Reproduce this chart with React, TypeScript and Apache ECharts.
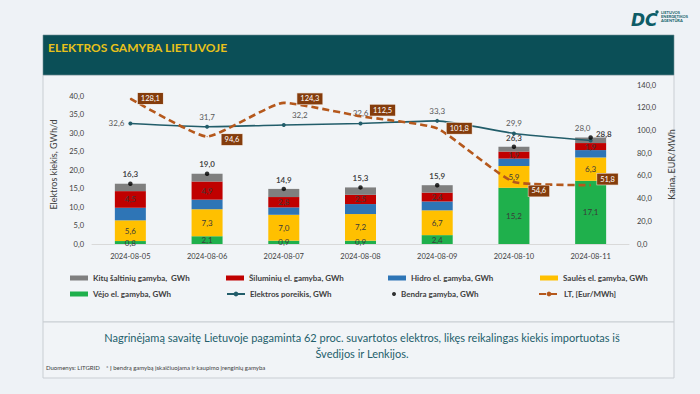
import React, { useEffect, useRef } from 'react';
import * as echarts from 'echarts';

const dates = ['2024-08-05', '2024-08-06', '2024-08-07', '2024-08-08', '2024-08-09', '2024-08-10', '2024-08-11'];
const wind = [0.8, 2.1, 0.9, 0.9, 2.4, 15.2, 17.1];
const solar = [5.6, 7.3, 7.0, 7.2, 6.7, 5.9, 6.3];
const hydro = [3.4, 2.6, 2.0, 2.7, 2.4, 2.0, 2.0];
const thermal = [4.5, 4.9, 2.8, 2.5, 2.4, 1.9, 1.9];
const other = [2.0, 2.1, 2.2, 2.0, 2.0, 1.3, 1.5];
const total = [16.3, 19.0, 14.9, 15.3, 15.9, 26.3, 28.8];
const demand = [32.6, 31.7, 32.2, 32.6, 33.3, 29.9, 28.0];
const price = [128.1, 94.6, 124.3, 112.5, 101.8, 54.6, 51.8];

const leftTicks = { min: 0, max: 43, interval: 5, labelMax: 40 };
const rightTicks = { min: 0, max: 140, interval: 20 };

const names = {
  other: 'Kitų šaltinių gamyba,  GWh',
  thermal: 'Šiluminių el. gamyba, GWh',
  hydro: 'Hidro el. gamyba, GWh',
  solar: 'Saulės el. gamyba, GWh',
  wind: 'Vėjo el. gamyba, GWh',
  demand: 'Elektros poreikis, GWh',
  total: 'Bendra gamyba, GWh',
  price: 'LT, [Eur/MWh]',
};

// label placement tweaks (style only)
const priceLabelOffsets = [[2, 0], [9, 3], [8, -4], [4, -6], [4, 0], [9, 9], [1, -6]];
const demandLabelCfg: any[] = [{ position: 'left' }, {}, { offset: [16, 0] }, {}, {}, {}, { offset: [-8, -2] }];
const totalLabelCfg: any[] = [{}, {}, {}, {}, {}, {}, { position: 'right', offset: [0, -4] }];

const FONT = 'Lato, "Open Sans", sans-serif';
const fmt = (v: number) => Number(v).toFixed(1).replace('.', ',');

const colors = {
  wind: '#1fb04c',
  solar: '#ffc000',
  hydro: '#2e75b6',
  thermal: '#c00000',
  other: '#7f7f7f',
  demand: '#225d6a',
  price: '#b5581c',
  teal: '#0b4f57',
};

function barSeries(name: string, data: number[], color: string, showLabel: boolean) {
  return {
    name,
    type: 'bar',
    stack: 'gen',
    barWidth: 31,
    data,
    itemStyle: { color },
    label: {
      show: showLabel,
      position: 'inside',
      formatter: (p: any) => fmt(p.value),
      fontSize: 8,
      fontFamily: FONT,
      color: '#3a3a3a',
    },
    emphasis: { disabled: true },
  };
}

const legendBase = {
  orient: 'horizontal',
  itemGap: 4,
  itemWidth: 18,
  itemHeight: 5,
  selectedMode: false,
  textStyle: { fontSize: 8, color: '#404040', fontFamily: FONT, fontWeight: 'bold' },
};

const option: any = {
  animation: false,
  backgroundColor: '#eef2f6',
  textStyle: { fontFamily: FONT },
  grid: { left: 92, right: 71, top: 85, bottom: 150, containLabel: false },
  legend: [
    { ...legendBase, data: [{ name: names.other, icon: 'rect' }], left: 65, top: 269 },
    { ...legendBase, data: [{ name: names.thermal, icon: 'rect' }], left: 221, top: 269 },
    { ...legendBase, data: [{ name: names.hydro, icon: 'rect' }], left: 383, top: 269 },
    { ...legendBase, data: [{ name: names.solar, icon: 'rect' }], left: 535, top: 269 },
    { ...legendBase, data: [{ name: names.wind, icon: 'rect' }], left: 65, top: 285 },
    { ...legendBase, data: [{ name: names.demand }], left: 221, top: 285, itemHeight: 6 },
    { ...legendBase, data: [{ name: names.total, icon: 'circle' }], left: 387, top: 285, itemWidth: 4, itemHeight: 4, itemGap: 8 },
    { ...legendBase, data: [{ name: names.price }], left: 533, top: 285, itemWidth: 20, itemHeight: 6 },
  ],
  xAxis: {
    type: 'category',
    data: dates,
    axisLine: { lineStyle: { color: '#d9d9d9' } },
    axisTick: { show: false },
    axisLabel: { fontSize: 7.5, color: '#404040', margin: 8, fontFamily: FONT },
  },
  yAxis: [
    {
      type: 'value',
      min: leftTicks.min,
      max: leftTicks.max,
      interval: leftTicks.interval,
      name: 'Elektros kiekis, GWh/d',
      nameLocation: 'middle',
      nameRotate: 90,
      nameGap: 22,
      nameTextStyle: { fontSize: 9, color: '#404040', fontFamily: FONT },
      axisLine: { show: false },
      axisTick: { show: false },
      splitLine: { show: false },
      axisLabel: {
        fontSize: 7.5,
        color: '#404040',
        margin: 8,
        fontFamily: FONT,
        formatter: (v: number) => (v > leftTicks.labelMax + 0.01 ? '' : fmt(v)),
      },
    },
    {
      type: 'value',
      min: rightTicks.min,
      max: rightTicks.max,
      interval: rightTicks.interval,
      name: 'Kaina, EUR/MWh',
      nameLocation: 'middle',
      nameRotate: 90,
      nameGap: 31,
      nameTextStyle: { fontSize: 9, color: '#404040', fontFamily: FONT },
      axisLine: { show: false },
      axisTick: { show: false },
      splitLine: { show: false },
      axisLabel: { fontSize: 7.5, color: '#404040', margin: 8, fontFamily: FONT, formatter: (v: number) => fmt(v) },
    },
  ],
  series: [
    barSeries(names.wind, wind, colors.wind, true),
    barSeries(names.solar, solar, colors.solar, true),
    barSeries(names.hydro, hydro, colors.hydro, false),
    barSeries(names.thermal, thermal, colors.thermal, true),
    barSeries(names.other, other, colors.other, false),
    {
      name: names.total,
      type: 'scatter',
      symbol: 'circle',
      symbolSize: 4.5,
      itemStyle: { color: '#000' },
      z: 5,
      data: total.map((v, i) => ({ value: v, label: totalLabelCfg[i] })),
      label: {
        show: true,
        position: 'top',
        distance: 3,
        formatter: (p: any) => fmt(p.value),
        fontSize: 8,
        fontWeight: 'bold',
        color: '#111',
        fontFamily: FONT,
      },
      emphasis: { disabled: true },
    },
    {
      name: names.demand,
      type: 'line',
      smooth: 0.15,
      symbol: 'circle',
      symbolSize: 4,
      z: 4,
      itemStyle: { color: colors.demand },
      lineStyle: { color: colors.demand, width: 1.6 },
      data: demand.map((v, i) => ({ value: v, label: demandLabelCfg[i] })),
      label: {
        show: true,
        position: 'top',
        distance: 4,
        formatter: (p: any) => fmt(p.value),
        fontSize: 8,
        color: '#595959',
        fontFamily: FONT,
      },
      emphasis: { disabled: true },
    },
    {
      name: names.price,
      type: 'line',
      yAxisIndex: 1,
      smooth: 0.15,
      symbol: 'circle',
      symbolSize: 1,
      z: 6,
      itemStyle: { color: colors.price },
      lineStyle: { color: colors.price, width: 2.6, type: [7, 4] },
      data: price.map((v, i) => ({ value: v, label: { offset: priceLabelOffsets[i] } })),
      label: {
        show: true,
        position: 'right',
        distance: 5,
        formatter: (p: any) => fmt(p.value),
        fontSize: 7.5,
        color: '#fff',
        backgroundColor: '#843c0c',
        borderColor: '#e9d8cc',
        borderWidth: 0.6,
        padding: [2, 3, 1, 3],
        fontFamily: FONT,
      },
      emphasis: { disabled: true },
    },
  ],
  graphic: [
    { type: 'rect', z: -20, shape: { x: 43, y: 75, width: 631, height: 247 }, style: { fill: '#f1f4f7', stroke: '#c9ced3', lineWidth: 1 } },
    { type: 'rect', z: -20, shape: { x: 43, y: 322, width: 631, height: 56 }, style: { fill: '#f1f4f7', stroke: '#c9ced3', lineWidth: 1 } },
    { type: 'rect', z: -10, shape: { x: 43, y: 35, width: 631, height: 40 }, style: { fill: colors.teal, stroke: '#6e8f94', lineWidth: 0.6 } },
    {
      type: 'text', x: 48, y: 47, z: 10,
      style: { text: 'ELEKTROS GAMYBA LIETUVOJE', fill: '#e8c21a', fontSize: 12, fontWeight: 'bold', fontFamily: FONT, textVerticalAlign: 'middle' },
    },
    {
      type: 'text', x: 362, y: 337, z: 10,
      style: {
        text: 'Nagrinėjamą savaitę Lietuvoje pagaminta 62 proc. suvartotos elektros, likęs reikalingas kiekis importuotas iš',
        fill: '#245f6c', fontSize: 11, fontFamily: FONT, textAlign: 'center', textVerticalAlign: 'middle',
      },
    },
    {
      type: 'text', x: 362, y: 353, z: 10,
      style: { text: 'Švedijos ir Lenkijos.', fill: '#245f6c', fontSize: 11, fontFamily: FONT, textAlign: 'center', textVerticalAlign: 'middle' },
    },
    {
      type: 'text', x: 46, y: 367, z: 10,
      style: {
        text: 'Duomenys: LITGRID    * Į bendrą gamybą įskaičiuojama ir kaupimo įrenginių gamyba',
        fill: '#404040', fontSize: 6, fontFamily: FONT, textVerticalAlign: 'middle',
      },
    },
    {
      type: 'text', x: 631, y: 20, z: 10,
      style: { text: 'DC', fill: '#0d5c66', fontSize: 17, fontWeight: 900, fontStyle: 'italic', fontFamily: 'DejaVu Sans', textVerticalAlign: 'middle' },
    },
    { type: 'circle', z: 10, shape: { cx: 657, cy: 12, r: 1.7 }, style: { fill: '#0d5c66' } },
    { type: 'text', x: 661, y: 12, z: 10, style: { text: 'LIETUVOS', fill: '#0d5c66', fontSize: 4, fontWeight: 'bold', fontFamily: FONT, textVerticalAlign: 'middle' } },
    { type: 'text', x: 661, y: 16, z: 10, style: { text: 'ENERGETIKOS', fill: '#0d5c66', fontSize: 4, fontWeight: 'bold', fontFamily: FONT, textVerticalAlign: 'middle' } },
    { type: 'text', x: 661, y: 20, z: 10, style: { text: 'AGENTŪRA', fill: '#0d5c66', fontSize: 4, fontWeight: 'bold', fontFamily: FONT, textVerticalAlign: 'middle' } },
  ],
};

export default function App() {
  const ref = useRef<HTMLDivElement>(null);
  useEffect(() => {
    const chart = echarts.init(ref.current as HTMLDivElement, null, { renderer: 'svg' });
    chart.setOption(option);
    return () => chart.dispose();
  }, []);
  return (
    <div
      ref={ref}
      style={{ position: 'fixed', left: 0, top: 0, width: 700, height: 394, background: '#eef2f6' }}
    />
  );
}
